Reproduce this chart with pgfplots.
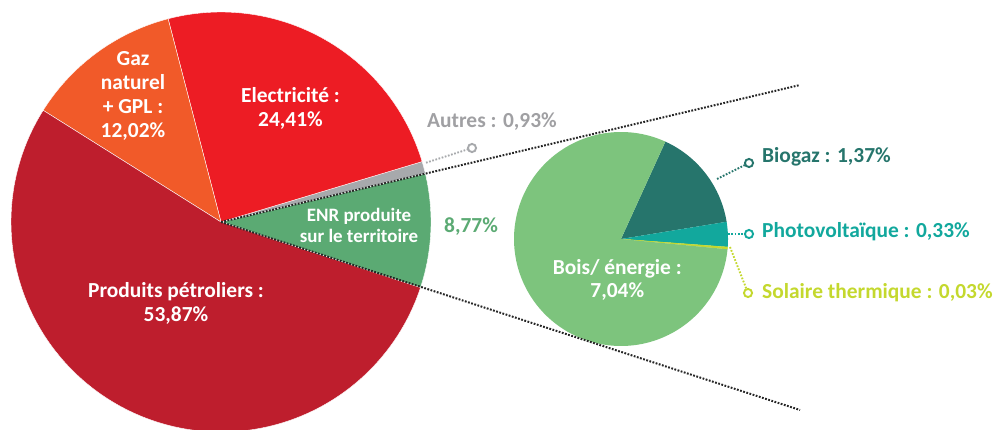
\documentclass[border=0pt]{standalone}
\usepackage{pgfplots}
\usepackage{pgfplotstable}
\pgfplotsset{compat=1.18}
\usepackage{fontspec}
\setmainfont{Carlito}

\definecolor{cPet}{HTML}{BE1E2D}
\definecolor{cEle}{HTML}{ED1C24}
\definecolor{cGaz}{HTML}{F15A29}
\definecolor{cAut}{HTML}{A7A9AC}
\definecolor{cAutT}{HTML}{A0A0A3}
\definecolor{cENR}{HTML}{5BAA73}
\definecolor{cBois}{HTML}{7DC47D}
\definecolor{cBio}{HTML}{26756C}
\definecolor{cPV}{HTML}{12A89D}
\definecolor{cSol}{HTML}{C4D82E}

\pgfplotstableread{
slice value
ENR 8.77
Autres 0.93
Elec 24.41
Gaz 12.02
Petrol 53.87
}\bigpie
\pgfplotstableread{
slice value
Biogaz 1.37
PV 0.33
Solaire 0.03
Bois 7.04
}\smallpie

\newcommand\getv[3]{\pgfplotstablegetelem{#2}{value}\of#1\global\let#3\pgfplotsretval}
\getv{\bigpie}{0}{\vENR}
\getv{\bigpie}{1}{\vAut}
\getv{\bigpie}{2}{\vEle}
\getv{\bigpie}{3}{\vGaz}
\getv{\bigpie}{4}{\vPet}
\getv{\smallpie}{0}{\vBio}
\getv{\smallpie}{1}{\vPV}
\getv{\smallpie}{2}{\vSol}
\getv{\smallpie}{3}{\vBois}

% big pie angles (counter-clockwise from ENR)
\pgfmathsetmacro\aA{-18.2}
\pgfmathsetmacro\aB{\aA+3.6*\vENR}
\pgfmathsetmacro\aC{\aB+3.6*\vAut}
\pgfmathsetmacro\aD{\aC+3.6*\vEle}
\pgfmathsetmacro\aE{\aD+3.6*\vGaz}
\pgfmathsetmacro\aF{\aE+3.6*\vPet}
% small pie angles (clockwise from Biogaz)
\pgfmathsetmacro\kS{360/(\vBio+\vPV+\vSol+\vBois)}
\pgfmathsetmacro\bA{65.5}
\pgfmathsetmacro\bB{\bA-\kS*\vBio}
\pgfmathsetmacro\bC{\bB-\kS*\vPV}
\pgfmathsetmacro\bD{\bC-\kS*\vSol}
\pgfmathsetmacro\bE{\bD-\kS*\vBois}

\def\bx{221}\def\by{208}\def\br{210}
\def\sx{621}\def\sy{191}\def\sr{107}

\begin{document}
\begin{tikzpicture}
\begin{axis}[name=ax, scale only axis, width=994bp, height=430bp,
  xmin=0, xmax=994, ymin=0, ymax=430, hide axis, clip=true]
% big pie
\addplot[fill=cENR, draw=white, line width=0.4pt, domain=\aA:\aB, samples=40, variable=\t]
  ({\bx+\br*cos(\t)},{\by+\br*sin(\t)}) -- (axis cs:\bx,\by) -- cycle;
\addplot[fill=cAut, draw=white, line width=0.4pt, domain=\aB:\aC, samples=10, variable=\t]
  ({\bx+\br*cos(\t)},{\by+\br*sin(\t)}) -- (axis cs:\bx,\by) -- cycle;
\addplot[fill=cEle, draw=white, line width=0.4pt, domain=\aC:\aD, samples=80, variable=\t]
  ({\bx+\br*cos(\t)},{\by+\br*sin(\t)}) -- (axis cs:\bx,\by) -- cycle;
\addplot[fill=cGaz, draw=white, line width=0.4pt, domain=\aD:\aE, samples=50, variable=\t]
  ({\bx+\br*cos(\t)},{\by+\br*sin(\t)}) -- (axis cs:\bx,\by) -- cycle;
\addplot[fill=cPet, draw=white, line width=0.4pt, domain=\aE:\aF, samples=150, variable=\t]
  ({\bx+\br*cos(\t)},{\by+\br*sin(\t)}) -- (axis cs:\bx,\by) -- cycle;
% small pie
\addplot[fill=cBio, draw=none, domain=\bB:\bA, samples=50, variable=\t]
  ({\sx+\sr*cos(\t)},{\sy+\sr*sin(\t)}) -- (axis cs:\sx,\sy) -- cycle;
\addplot[fill=cPV, draw=none, domain=\bC:\bB, samples=15, variable=\t]
  ({\sx+\sr*cos(\t)},{\sy+\sr*sin(\t)}) -- (axis cs:\sx,\sy) -- cycle;
\addplot[fill=cSol, draw=cSol, line width=0.3pt, domain=\bD:\bC, samples=4, variable=\t]
  ({\sx+\sr*cos(\t)},{\sy+\sr*sin(\t)}) -- (axis cs:\sx,\sy) -- cycle;
\addplot[fill=cBois, draw=none, domain=\bE:\bD, samples=200, variable=\t]
  ({\sx+\sr*cos(\t)},{\sy+\sr*sin(\t)}) -- (axis cs:\sx,\sy) -- cycle;
% projection lines
\addplot[black!85, line width=2pt, dash pattern=on 1.8pt off 1.5pt] coordinates {(\bx,\by) (800,345)};
\addplot[black!85, line width=2pt, dash pattern=on 1.8pt off 1.5pt] coordinates {(\bx,\by) (800,20)};
% leader lines
\addplot[cAut, line width=1.9pt, dash pattern=on 1.7pt off 1.6pt, mark=*, mark indices={2},
  mark size=4.1pt, mark options={solid, fill=white, draw=cAut, line width=1.9pt}]
  coordinates {(426,267.3) (472,282)};
\addplot[cBio, line width=1.9pt, dash pattern=on 1.7pt off 1.6pt, mark=*, mark indices={2},
  mark size=4.1pt, mark options={solid, fill=white, draw=cBio, line width=1.9pt}]
  coordinates {(717,251) (749,267)};
\addplot[cPV, line width=1.9pt, dash pattern=on 1.7pt off 1.6pt, mark=*, mark indices={2},
  mark size=4.1pt, mark options={solid, fill=white, draw=cPV, line width=1.9pt}]
  coordinates {(728,196) (749,196)};
\addplot[cSol, line width=1.9pt, dash pattern=on 1.7pt off 1.6pt, mark=*, mark indices={2},
  mark size=4.1pt, mark options={solid, fill=white, draw=cSol, line width=1.9pt}]
  coordinates {(730,183) (748,137)};
% labels
\node[white, align=center, inner sep=0pt, font=\fontsize{21.5}{24}\selectfont\bfseries]
  at (axis cs:133,334) {Gaz\\naturel\\+ GPL :\\12,02\%};
\node[white, align=center, inner sep=0pt, font=\fontsize{21.5}{24}\selectfont\bfseries]
  at (axis cs:290.5,321.3) {Electricit\'e :\\24,41\%};
\node[white, align=center, inner sep=0pt, font=\fontsize{21.5}{24}\selectfont\bfseries]
  at (axis cs:176,126.7) {Produits p\'etroliers :\\53,87\%};
\node[white, align=center, inner sep=0pt, font=\fontsize{19}{21}\selectfont\bfseries]
  at (axis cs:359,204.7) {ENR produite\\sur le territoire};
\node[white, align=center, inner sep=0pt, font=\fontsize{21.5}{23}\selectfont\bfseries]
  at (axis cs:617.3,150.5) {Bois/ \'energie :\\7,04\%};
\node[cAutT, anchor=west, inner sep=0pt, font=\fontsize{21.5}{24}\selectfont\bfseries]
  at (axis cs:427,308.3) {Autres : 0,93\%};
\node[cENR, inner sep=0pt, font=\fontsize{21.5}{24}\selectfont\bfseries]
  at (axis cs:471,203.3) {8,77\%};
\node[cBio, anchor=west, inner sep=0pt, font=\fontsize{21.5}{24}\selectfont\bfseries]
  at (axis cs:762,273) {Biogaz : 1,37\%};
\node[cPV, anchor=west, inner sep=0pt, font=\fontsize{21.5}{24}\selectfont\bfseries]
  at (axis cs:762,198.3) {Photovolta\"ique : 0,33\%};
\node[cSol, anchor=west, inner sep=0pt, font=\fontsize{21.5}{24}\selectfont\bfseries]
  at (axis cs:762,137) {Solaire thermique : 0,03\%};
\end{axis}
\pgfresetboundingbox
\path (ax.south west) rectangle (ax.north east);
\end{tikzpicture}
\end{document}
